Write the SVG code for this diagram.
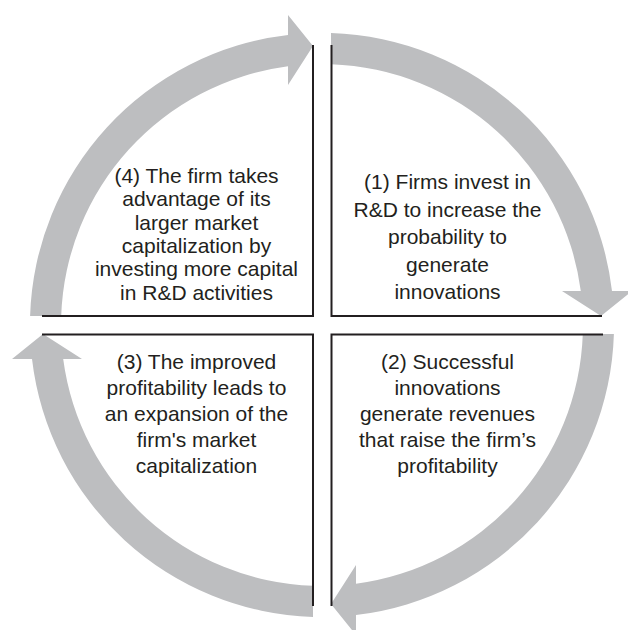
<svg xmlns="http://www.w3.org/2000/svg" xmlns:xlink="http://www.w3.org/1999/xlink" width="628" height="630" viewBox="0 0 628 630">
  <style>
    .ring { fill: #bdbec0; stroke: none; }
    .edge { fill: none; stroke: #231f20; stroke-width: 2; }
    .label { font-family: "Liberation Sans", Arial, sans-serif; font-size: 21px; fill: #231f20; text-anchor: middle; }
  </style>
  <defs>
    <!-- one quarter of the cycle ring: flat tail on the left, head pointing right at the top -->
    <path id="quarter-arrow" d="M30.1,316 A292,292 0 0 1 288,35 L288,15 L313,46 L288,85 L288,66.2 A261,261 0 0 0 61.2,316 Z"/>
  </defs>
  <rect width="628" height="630" fill="#ffffff"/>

  <!-- curved arrows of the cycle, each a rotation of the same quarter about (322,325) -->
  <g id="connectors" class="ring">
    <use id="arrow-4-1" xlink:href="#quarter-arrow"/>
    <use id="arrow-1-2" xlink:href="#quarter-arrow" transform="rotate(90 322 325)"/>
    <use id="arrow-2-3" xlink:href="#quarter-arrow" transform="rotate(180 322 325)"/>
    <use id="arrow-3-4" xlink:href="#quarter-arrow" transform="rotate(270 322 325)"/>
  </g>

  <g id="step-1">
    <path class="edge" d="M331.5,45 V316 H602"/>
    <text class="label" x="447.5" y="189">(1) Firms invest in</text>
    <text class="label" x="447.5" y="216.5">R&amp;D to increase the</text>
    <text class="label" x="447.5" y="244">probability to</text>
    <text class="label" x="447.5" y="271.5">generate</text>
    <text class="label" x="447.5" y="299">innovations</text>
  </g>

  <g id="step-2">
    <path class="edge" d="M331.5,606 V334.5 H603"/>
    <text class="label" x="447.5" y="368.5">(2) Successful</text>
    <text class="label" x="447.5" y="394.5">innovations</text>
    <text class="label" x="447.5" y="420.5">generate revenues</text>
    <text class="label" x="447.5" y="446.5">that raise the firm’s</text>
    <text class="label" x="447.5" y="472.5">profitability</text>
  </g>

  <g id="step-3">
    <path class="edge" d="M313,606 V334.5 H42"/>
    <text class="label" x="196.5" y="368.5">(3) The improved</text>
    <text class="label" x="196.5" y="394.5">profitability leads to</text>
    <text class="label" x="196.5" y="420.5">an expansion of the</text>
    <text class="label" x="196.5" y="446.5">firm's market</text>
    <text class="label" x="196.5" y="472.5">capitalization</text>
  </g>

  <g id="step-4">
    <path class="edge" d="M313,45 V316 H42"/>
    <text class="label" x="196.5" y="183">(4) The firm takes</text>
    <text class="label" x="196.5" y="206.3">advantage of its</text>
    <text class="label" x="196.5" y="229.6">larger market</text>
    <text class="label" x="196.5" y="252.9">capitalization by</text>
    <text class="label" x="196.5" y="276.2">investing more capital</text>
    <text class="label" x="196.5" y="299.5">in R&amp;D activities</text>
  </g>
</svg>
